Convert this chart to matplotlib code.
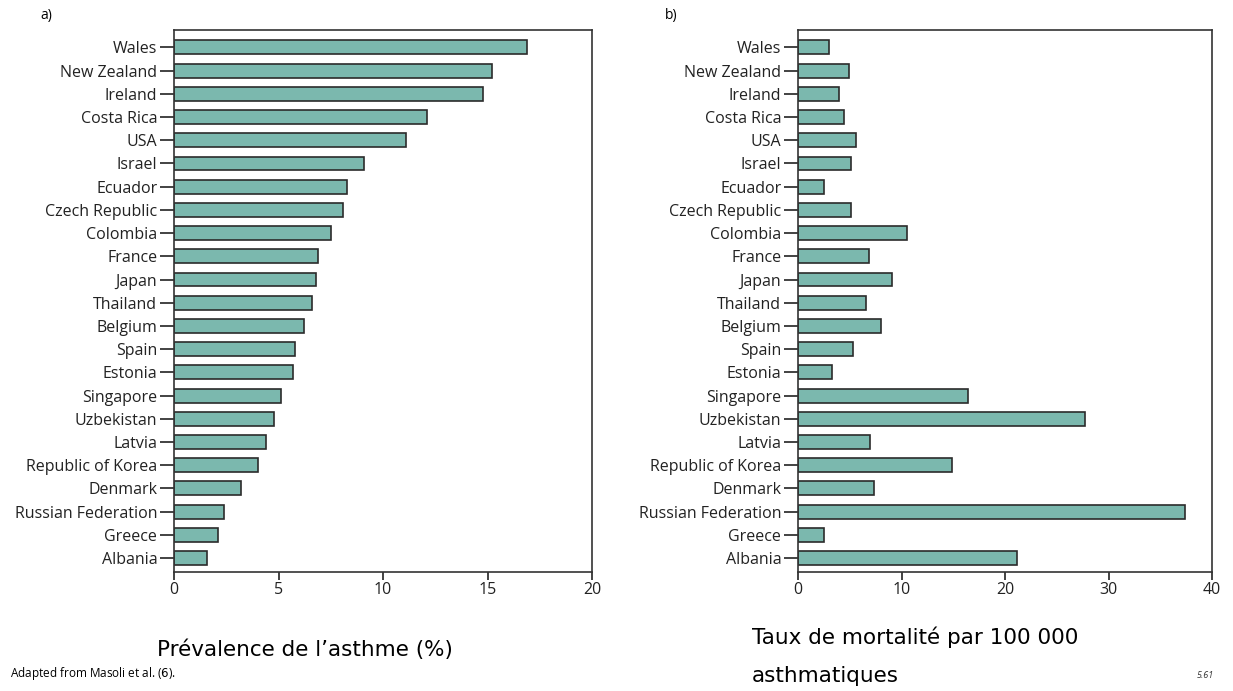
import matplotlib.pyplot as plt
import numpy as np

countries = [
    "Wales", "New Zealand", "Ireland", "Costa Rica", "USA", "Israel",
    "Ecuador", "Czech Republic", "Colombia", "France", "Japan", "Thailand",
    "Belgium", "Spain", "Estonia", "Singapore", "Uzbekistan", "Latvia",
    "Republic of Korea", "Denmark", "Russian Federation", "Greece", "Albania",
]

# asthma prevalence (%)
prevalence = [
    16.9, 15.2, 14.8, 12.1, 11.1, 9.1, 8.3, 8.1, 7.5, 6.9, 6.8, 6.6,
    6.2, 5.8, 5.7, 5.1, 4.8, 4.4, 4.0, 3.2, 2.4, 2.1, 1.6,
]

# asthma mortality per 100 000 asthmatics
mortality = [
    3.0, 4.9, 4.0, 4.4, 5.6, 5.1, 2.5, 5.1, 10.5, 6.9, 9.1, 6.6,
    8.0, 5.3, 3.3, 16.4, 27.7, 7.0, 14.9, 7.3, 37.4, 2.5, 21.2,
]

BAR = "#7bb8ae"
EDGE = "#2b2b2b"
TICK_FONT = "Open Sans"

fig = plt.figure(figsize=(12.33, 6.91), dpi=100)
ax1 = fig.add_axes([174 / 1233, 1 - 572 / 691, 418 / 1233, 542 / 691])
ax2 = fig.add_axes([798 / 1233, 1 - 572 / 691, 414 / 1233, 542 / 691])


def panel(ax, values, xmax, step):
    y = np.arange(len(countries))
    ax.barh(y, values, height=0.6, color=BAR, edgecolor=EDGE, linewidth=1.2)
    ax.set_yticks(y)
    ax.set_yticklabels(countries, fontsize=11.5, family=TICK_FONT, color="#222")
    ax.set_ylim(len(countries) - 0.4, -0.75)
    ax.set_xlim(0, xmax)
    ax.set_xticks(np.arange(0, xmax + 1, step))
    for lab in ax.get_xticklabels():
        lab.set_fontsize(11.5)
        lab.set_family(TICK_FONT)
        lab.set_color("#222")
    ax.tick_params(axis="y", length=10, width=1.2, pad=2, color="#222")
    ax.tick_params(axis="x", length=6, width=1.2, pad=1, color="#222")
    for s in ax.spines.values():
        s.set_linewidth(1.2)
        s.set_color("#333")


panel(ax1, prevalence, 20, 5)
panel(ax2, mortality, 40, 10)

fig.text(40 / 1233, 1 - 15 / 691, "a)", fontsize=10, family=TICK_FONT, va="center")
fig.text(665 / 1233, 1 - 15 / 691, "b)", fontsize=10, family=TICK_FONT, va="center")

fig.text(305 / 1233, 1 - 650 / 691, "Prévalence de l’asthme (%)",
         fontsize=15.5, ha="center", va="center", family="DejaVu Sans")
fig.text(752 / 1233, 1 - 637 / 691, "Taux de mortalité par 100 000",
         fontsize=15.5, ha="left", va="center", family="DejaVu Sans")
fig.text(752 / 1233, 1 - 676 / 691, "asthmatiques",
         fontsize=15.5, ha="left", va="center", family="DejaVu Sans")

fig.text(10 / 1233, 1 - 673 / 691, r"Adapted from Masoli et al. ($\mathit{6}$).",
         fontsize=8.5, family=TICK_FONT, va="center")
fig.text(1205 / 1233, 1 - 675 / 691, "5.61", fontsize=6.5, style="italic",
         family=TICK_FONT, ha="center", va="center", color="#333")

fig.savefig("out.png", dpi=100)
